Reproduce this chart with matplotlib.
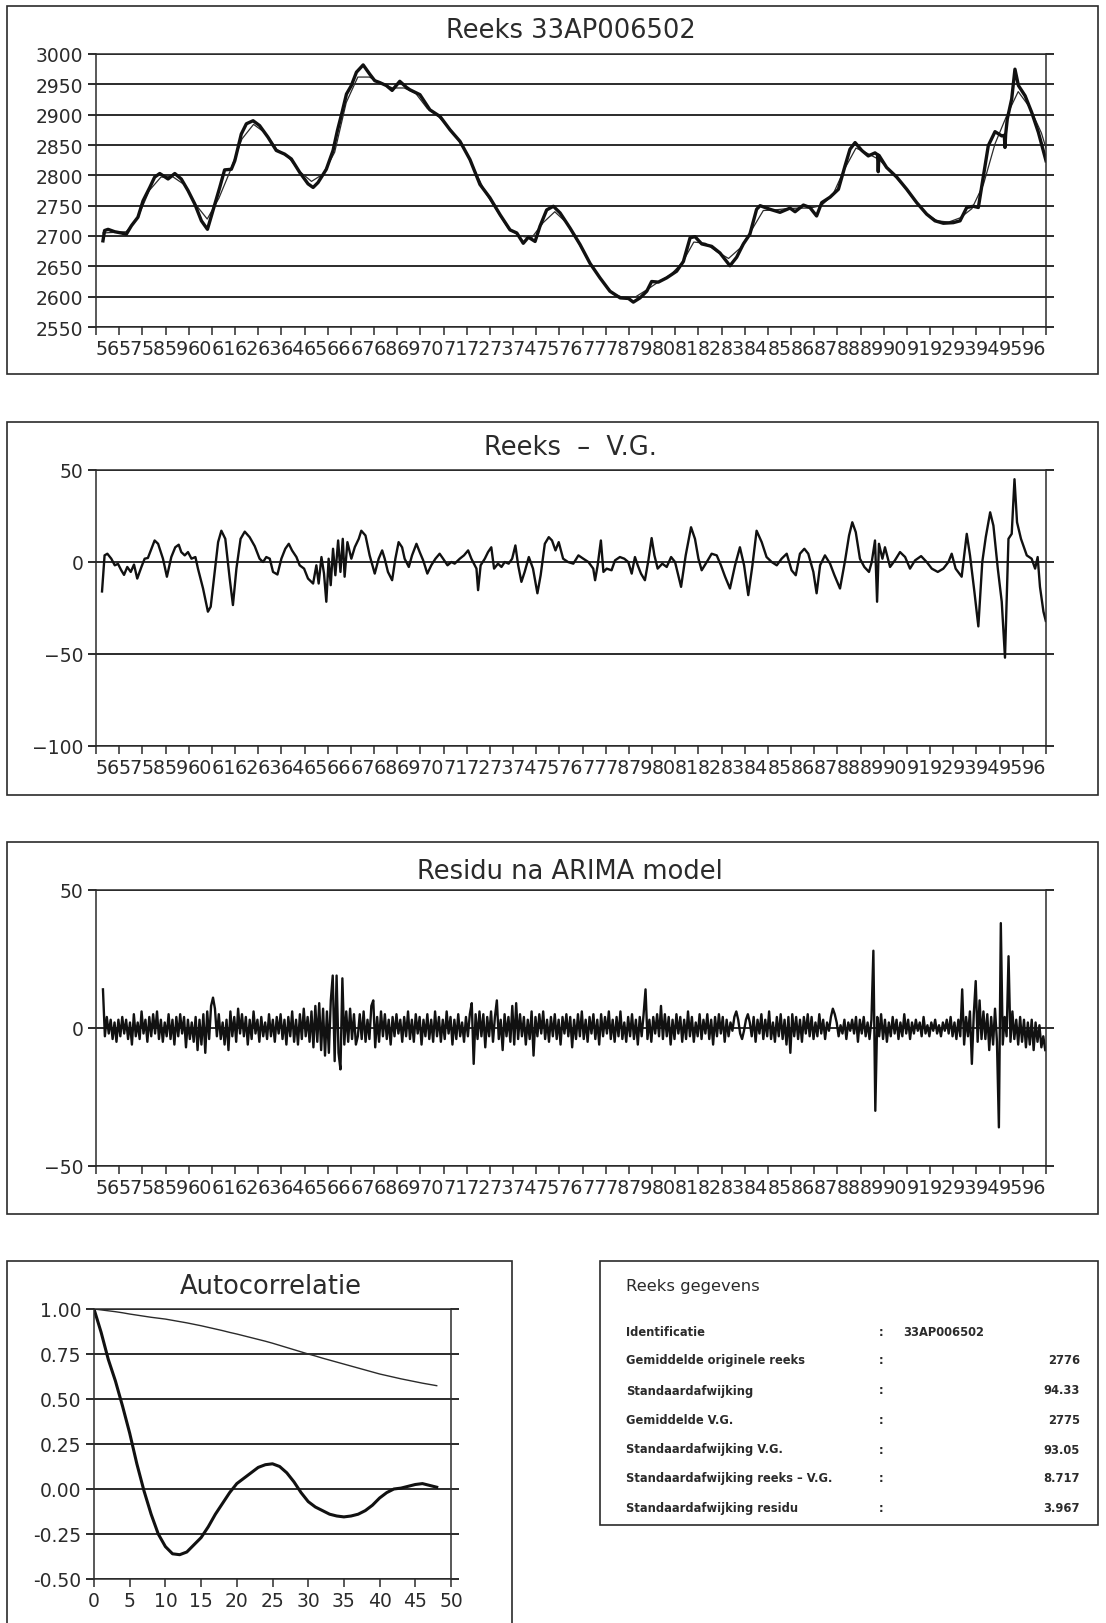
import numpy as np
import matplotlib
matplotlib.use("Agg")
import matplotlib.pyplot as plt
from matplotlib.patches import Rectangle
from matplotlib.ticker import FormatStrFormatter

# --- reeks 33AP006502: gemeten stijghoogte (dikke lijn) ---
reeks_jaar = [
    1956.30, 1956.37, 1956.52, 1956.81, 1957.09, 1957.31, 1957.53, 1957.81, 1958.03, 1958.32,
    1958.53, 1958.75, 1959.11, 1959.40, 1959.68, 1959.97, 1960.26, 1960.55, 1960.81, 1961.05,
    1961.34, 1961.55, 1961.84, 1961.99, 1962.27, 1962.49, 1962.78, 1963.06, 1963.42, 1963.78,
    1964.14, 1964.43, 1964.79, 1965.15, 1965.37, 1965.58, 1965.94, 1966.23, 1966.42, 1966.62,
    1966.81, 1967.02, 1967.24, 1967.53, 1967.81, 1968.03, 1968.24, 1968.53, 1968.78, 1969.11,
    1969.40, 1969.55, 1969.98, 1970.41, 1970.85, 1971.28, 1971.71, 1972.14, 1972.57, 1973.00,
    1973.44, 1973.87, 1974.16, 1974.44, 1974.66, 1974.95, 1975.16, 1975.45, 1975.74, 1976.03,
    1976.46, 1976.89, 1977.32, 1977.75, 1978.18, 1978.62, 1978.98, 1979.19, 1979.48, 1979.77,
    1979.98, 1980.27, 1980.63, 1981.06, 1981.35, 1981.64, 1981.85, 1982.14, 1982.57, 1982.93,
    1983.36, 1983.65, 1983.94, 1984.22, 1984.51, 1984.66, 1985.09, 1985.52, 1985.95, 1986.17,
    1986.53, 1986.81, 1987.10, 1987.32, 1987.68, 1988.04, 1988.33, 1988.54, 1988.76, 1989.05,
    1989.33, 1989.62, 1989.73, 1989.76, 1989.79, 1990.12, 1990.56, 1990.99, 1991.42, 1991.85,
    1992.21, 1992.57, 1993.00, 1993.29, 1993.58, 1993.86, 1994.08, 1994.30, 1994.51, 1994.80,
    1995.09, 1995.20, 1995.23, 1995.26, 1995.33, 1995.52, 1995.66, 1995.81, 1996.10, 1996.38,
    1996.67, 1997.00,
]
reeks_waarde = [
    2692, 2709, 2711, 2707, 2705, 2703, 2717, 2731, 2758, 2780,
    2797, 2803, 2794, 2803, 2794, 2775, 2753, 2725, 2711, 2742,
    2780, 2809, 2810, 2824, 2868, 2885, 2890, 2882, 2863, 2841,
    2835, 2827, 2805, 2786, 2780, 2788, 2810, 2841, 2874, 2904,
    2934, 2948, 2970, 2982, 2967, 2956, 2953, 2948, 2940, 2955,
    2945, 2941, 2933, 2908, 2897, 2875, 2856, 2826, 2785, 2763,
    2735, 2710, 2705, 2688, 2698, 2691, 2716, 2743, 2749, 2738,
    2713, 2686, 2655, 2631, 2609, 2598, 2597, 2591, 2598, 2609,
    2625, 2624, 2631, 2642, 2658, 2697, 2699, 2687, 2683, 2672,
    2651, 2665, 2687, 2703, 2744, 2750, 2744, 2739, 2746, 2740,
    2751, 2747, 2733, 2755, 2764, 2777, 2816, 2843, 2854, 2841,
    2832, 2837, 2834, 2806, 2833, 2813, 2797, 2777, 2755, 2736,
    2725, 2721, 2722, 2725, 2747, 2749, 2747, 2799, 2849, 2872,
    2865, 2866, 2846, 2868, 2893, 2926, 2975, 2948, 2931, 2904,
    2871, 2824,
]

# --- V.G. (dunne lijn) ---
vg_jaar = [
    1956.3, 1956.8, 1957.3, 1957.8, 1958.3, 1958.8, 1959.3, 1959.8, 1960.3, 1960.8,
    1961.3, 1961.8, 1962.3, 1962.8, 1963.3, 1963.8, 1964.3, 1964.8, 1965.3, 1965.8,
    1966.3, 1966.8, 1967.3, 1967.8, 1968.3, 1968.8, 1969.3, 1969.8, 1970.3, 1970.8,
    1971.3, 1971.8, 1972.3, 1972.8, 1973.3, 1973.8, 1974.3, 1974.8, 1975.3, 1975.8,
    1976.3, 1976.8, 1977.3, 1977.8, 1978.3, 1978.8, 1979.3, 1979.8, 1980.3, 1980.8,
    1981.3, 1981.8, 1982.3, 1982.8, 1983.3, 1983.8, 1984.3, 1984.8, 1985.3, 1985.8,
    1986.3, 1986.8, 1987.3, 1987.8, 1988.3, 1988.8, 1989.3, 1989.8, 1990.3, 1990.8,
    1991.3, 1991.8, 1992.3, 1992.8, 1993.3, 1993.8, 1994.3, 1994.8, 1995.3, 1995.8,
    1996.3, 1996.8, 1997.0,
]
vg_waarde = [
    2705, 2706, 2707, 2730, 2775, 2797, 2798, 2785, 2752, 2728,
    2762, 2808, 2860, 2884, 2870, 2843, 2830, 2806, 2790, 2802,
    2838, 2920, 2962, 2962, 2952, 2944, 2944, 2935, 2910, 2896,
    2875, 2850, 2812, 2772, 2742, 2712, 2700, 2697, 2722, 2740,
    2722, 2690, 2656, 2628, 2605, 2598, 2600, 2612, 2625, 2636,
    2656, 2690, 2688, 2674, 2663, 2680, 2710, 2742, 2743, 2745,
    2746, 2746, 2750, 2768, 2810, 2845, 2836, 2826, 2806, 2785,
    2760, 2738, 2725, 2723, 2730, 2745, 2785, 2852, 2898, 2938,
    2912, 2870, 2845,
]

# --- reeks minus V.G. ---
verschil_jaar = [
    1956.26, 1956.37, 1956.49, 1956.66, 1956.81, 1956.95, 1957.09, 1957.21, 1957.35, 1957.50,
    1957.64, 1957.78, 1957.96, 1958.10, 1958.24, 1958.39, 1958.53, 1958.68, 1958.89, 1959.06,
    1959.25, 1959.42, 1959.57, 1959.68, 1959.83, 1959.97, 1960.12, 1960.29, 1960.40, 1960.62,
    1960.83, 1960.95, 1961.09, 1961.27, 1961.41, 1961.58, 1961.77, 1961.91, 1962.06, 1962.24,
    1962.42, 1962.63, 1962.85, 1963.06, 1963.21, 1963.35, 1963.50, 1963.64, 1963.83, 1964.00,
    1964.17, 1964.32, 1964.46, 1964.65, 1964.79, 1964.98, 1965.15, 1965.37, 1965.51, 1965.61,
    1965.73, 1965.84, 1965.94, 1966.04, 1966.13, 1966.23, 1966.33, 1966.45, 1966.55, 1966.65,
    1966.73, 1966.85, 1967.02, 1967.17, 1967.34, 1967.45, 1967.63, 1967.81, 1968.03, 1968.20,
    1968.35, 1968.46, 1968.60, 1968.78, 1968.92, 1969.06, 1969.21, 1969.32, 1969.50, 1969.64,
    1969.83, 1969.97, 1970.12, 1970.30, 1970.47, 1970.65, 1970.83, 1970.98, 1971.17, 1971.34,
    1971.48, 1971.70, 1971.88, 1972.06, 1972.20, 1972.42, 1972.49, 1972.60, 1972.78, 1972.92,
    1973.06, 1973.18, 1973.35, 1973.50, 1973.64, 1973.81, 1973.96, 1974.10, 1974.22, 1974.36,
    1974.50, 1974.68, 1974.86, 1975.05, 1975.19, 1975.37, 1975.54, 1975.68, 1975.83, 1975.97,
    1976.16, 1976.37, 1976.60, 1976.82, 1977.03, 1977.25, 1977.46, 1977.54, 1977.65, 1977.79,
    1977.90, 1978.04, 1978.25, 1978.40, 1978.61, 1978.80, 1978.97, 1979.12, 1979.26, 1979.38,
    1979.52, 1979.69, 1979.84, 1979.98, 1980.10, 1980.24, 1980.44, 1980.63, 1980.82, 1980.99,
    1981.25, 1981.45, 1981.68, 1981.85, 1982.00, 1982.14, 1982.36, 1982.57, 1982.79, 1982.97,
    1983.15, 1983.36, 1983.58, 1983.79, 1983.97, 1984.15, 1984.33, 1984.51, 1984.73, 1984.94,
    1985.16, 1985.38, 1985.59, 1985.81, 1986.02, 1986.20, 1986.38, 1986.57, 1986.74, 1986.96,
    1987.10, 1987.25, 1987.46, 1987.68, 1987.87, 1988.11, 1988.33, 1988.50, 1988.64, 1988.79,
    1988.97, 1989.16, 1989.36, 1989.48, 1989.62, 1989.71, 1989.79, 1989.94, 1990.05, 1990.27,
    1990.48, 1990.70, 1990.92, 1991.13, 1991.35, 1991.61, 1991.85, 1992.07, 1992.33, 1992.57,
    1992.79, 1992.93, 1993.10, 1993.36, 1993.58, 1993.72, 1993.91, 1994.08, 1994.25, 1994.40,
    1994.59, 1994.73, 1994.92, 1995.09, 1995.23, 1995.38, 1995.52, 1995.64, 1995.75, 1995.92,
    1996.17, 1996.38, 1996.53, 1996.64, 1996.74, 1996.89, 1996.99,
]
verschil_waarde = [
    -16, 3.6, 4.5, 1.8, -1.8, -1, -4.5, -7, -2.7, -5.4,
    -1.4, -9, -2.7, 1.8, 2.2, 7.2, 11.7, 9.9, 1.8, -8,
    2.7, 8, 9.4, 5.4, 3.6, 5.4, 1.8, 2.7, -3.6, -14.4,
    -27, -24.3, -9, 10.8, 17, 12.6, -9, -23.4, -3.6, 12.6,
    16.5, 13.5, 8.6, 1.8, 0, 2.7, 1.8, -5.4, -6.8, 1.8,
    7.2, 9.9, 6.3, 2.7, -1.8, -3.6, -9, -11.7, -1.8, -11.7,
    2.7, -6.3, -21.6, 1.8, -12.6, 7.2, -7.2, 11.7, -5.4, 12.6,
    -8, 10.8, 1.8, 8.1, 12.6, 17, 14.4, 3.6, -6.3, 1.8,
    6.3, 1.8, -5.4, -9.9, 1.8, 10.8, 8, 1.8, -2.7, 3.6,
    9.9, 5.4, 0.9, -6.3, -1.8, 1.8, 4.5, 1.8, -1.8, 0,
    -0.9, 1.8, 3.6, 6.3, 1.8, -3.6, -15.3, -1.8, 1.8, 5.4,
    8, -3.6, -0.9, -2.7, 0, -0.9, 1.8, 9, -1.8, -10.8,
    -5.4, 2.7, -3.6, -17, -7.2, 9.9, 13.5, 11.7, 6.3, 10.8,
    1.8, 0, -0.9, 3.6, 1.8, 0, -3.6, -9.9, -1.8, 11.7,
    -5.4, -3.6, -4.5, 0.9, 2.7, 1.8, 0, -6.3, 2.7, -1.8,
    -6.3, -9.9, 0.9, 13, 3.6, -3.6, -0.9, -2.7, 2.7, 0,
    -13.5, 3.6, 18.9, 12.6, 1.8, -4.5, 0, 4.5, 3.6, -1.8,
    -8, -14.4, -1.8, 8, -1.8, -18, -1.8, 17, 10.8, 2.7,
    0, -1.8, 1.8, 4.5, -4.5, -7.2, 4.5, 7.2, 4.5, -5.4,
    -17, -1.8, 3.6, -0.9, -7.2, -14.4, 0.9, 14.4, 21.6, 16.2,
    1.8, -2.7, -5.4, 0, 11.7, -21.6, 9.9, 1.8, 8, -2.7,
    0.9, 5.4, 2.7, -3.6, 0.9, 3.2, 0, -3.6, -5.4, -3.6,
    0, 4.5, -3.6, -8, 15.3, 3.6, -16.2, -35, 0, 13.5,
    27, 19.8, -3.6, -21.6, -52, 12.6, 15.3, 45, 21.6, 12.6,
    3.6, 1.8, -3.6, 2.7, -13.5, -27, -32,
]

# --- residu na ARIMA model, maandwaarden vanaf april 1956 ---
residu_start = 1956.30
residu_waarde = [
    14, -3, 4, -2, 3, -4, 2, -5, 3, -3, 4, -2,
    3, -4, 2, -6, 5, -3, 2, -4, 6, -2, 3, -5,
    4, -3, 5, -2, 6, -4, 3, -5, 2, -3, 5, -4,
    3, -6, 4, -3, 5, -2, 4, -7, 3, -4, 2, -5,
    4, -8, 3, -6, 5, -9, 6, -4, 8, 11, 7, -3,
    5, -4, 2, -6, 3, -8, 6, -3, 4, -5, 7, -2,
    5, -3, 4, -6, 3, -4, 6, -2, 3, -5, 4, -3,
    2, -4, 5, -3, 3, -5, 4, -2, 5, -4, 3, -6,
    4, -3, 6, -5, 3, -6, 5, -4, 7, -3, 4, -5,
    6, -7, 8, -5, 9, -8, 7, -10, 6, -9, 10, 19,
    -12, 19, -9, -15, 18, -6, 6, -5, 7, -4, 5, -6,
    -3, 5, -4, 6, -5, 3, -4, 8, 10, -7, 4, -5,
    6, -3, 5, -4, 3, -6, 4, -3, 5, -2, 3, -5,
    4, -3, 6, -4, 3, -5, 5, -2, 4, -6, 3, -3,
    5, -4, 3, -5, 6, -3, 4, -5, 3, -4, 6, -2,
    4, -6, 3, -4, 5, -3, 2, -5, 4, -3, 5, 9,
    -13, 5, -4, 6, -3, 5, -7, 4, -3, 6, -5, 4,
    10, -4, 3, -8, 5, -3, 4, -5, 8, -6, 9, -4,
    5, -3, 4, -6, 3, -4, 6, -10, 4, -3, 5, -2,
    6, -4, 3, -5, 4, -3, 5, -4, 3, -6, 4, -2,
    5, -3, 4, -7, 3, -4, 5, -3, 6, -4, 3, -5,
    4, -2, 5, -4, 3, -6, 5, -3, 4, -2, 6, -4,
    3, -5, 4, -3, 6, -4, 2, -5, 4, -3, 5, -4,
    3, -6, 4, -3, 5, 14, -4, 3, -5, 4, -2, 5,
    -3, 8, -4, 5, -3, 4, -6, 3, -4, 5, -2, 4,
    -5, 3, -4, 6, -3, 4, -5, 2, -3, 5, -4, 3,
    -2, 5, -4, 3, -6, 4, -3, 5, -2, 4, -5, 3,
    -3, 2, -1, 4, 6, 3, -2, -4, -1, 3, 5, 2,
    -3, 4, -5, 3, -2, 5, -4, 3, -3, 6, -4, 2,
    -5, 4, -3, 5, -4, 3, -6, 4, -9, 5, -3, 4,
    -4, 3, -5, 4, -2, 5, -3, 4, -4, 2, -3, 5,
    -2, 3, -4, 2, -1, 4, 7, 5, 2, -3, 1, -2,
    3, -4, 2, -1, 3, -2, 4, -5, 3, -2, 4, -3,
    2, -4, 3, 28, -30, 4, -3, 5, -4, 3, -5, 2,
    -3, 4, -2, 3, -4, 2, -3, 5, -2, 3, -4, 2,
    -2, 3, -1, 2, -3, 4, -2, 1, -3, 2, -1, 3,
    -2, 1, -3, 2, -1, 3, -2, 4, -3, 2, -4, 3,
    -3, 14, -6, 4, -3, 6, -13, 5, 17, -5, 10, -4,
    6, -4, 5, -8, 4, -6, 7, -5, -36, 38, -6, 4,
    -3, 26, -5, 6, -4, 3, -6, 4, -5, 3, -7, 2,
    -6, 3, -8, 2, -5, 1, -7, -3, -8,
]

# --- autocorrelatie per lag (0..48) ---
acf_reeks = [
    1.000, 0.995, 0.990, 0.985, 0.979, 0.972, 0.966, 0.960, 0.954, 0.949,
    0.944, 0.937, 0.930, 0.923, 0.915, 0.907, 0.898, 0.889, 0.880, 0.870,
    0.861, 0.851, 0.841, 0.831, 0.821, 0.810, 0.798, 0.786, 0.774, 0.762,
    0.750, 0.739, 0.727, 0.716, 0.705, 0.694, 0.683, 0.672, 0.661, 0.650,
    0.639, 0.630, 0.621, 0.612, 0.604, 0.596, 0.588, 0.581, 0.574,
]
acf_verschil = [
    1.000, 0.870, 0.720, 0.600, 0.460, 0.310, 0.140, -0.010, -0.140, -0.250,
    -0.320, -0.360, -0.365, -0.350, -0.310, -0.270, -0.210, -0.140, -0.080, -0.020,
    0.030, 0.060, 0.090, 0.120, 0.135, 0.140, 0.125, 0.090, 0.040, -0.020,
    -0.070, -0.100, -0.120, -0.140, -0.150, -0.155, -0.150, -0.140, -0.120, -0.090,
    -0.050, -0.020, 0.000, 0.005, 0.015, 0.025, 0.030, 0.020, 0.010,
]

# --- tabel reeks gegevens ---
tabel_labels = [
    "Identificatie", "Gemiddelde originele reeks", "Standaardafwijking",
    "Gemiddelde V.G.", "Standaardafwijking V.G.",
    "Standaardafwijking reeks \u2013 V.G.", "Standaardafwijking residu",
]
tabel_waarden = ["33AP006502", "2776", "94.33", "2775", "93.05", "8.717", "3.967"]

INK = "#2b2b2b"
W, H = 1106, 1624

plt.rcParams["font.family"] = ["DejaVu Sans"]

fig = plt.figure(figsize=(W / 100, H / 100), dpi=100)
fig.patch.set_facecolor("white")


def box(left, top, right, bottom):
    return [left / W, 1 - bottom / H, (right - left) / W, (bottom - top) / H]


def kader(left, top, right, bottom):
    fig.add_artist(Rectangle((left / W, 1 - bottom / H), (right - left) / W,
                             (bottom - top) / H, transform=fig.transFigure,
                             fill=False, lw=1.2, ec=INK))


def titel(x, y, s, size=18.5, **kw):
    fig.text(x / W, 1 - y / H, s, fontsize=size, color=INK, va="center", **kw)


def opmaak(ax):
    for s in ax.spines.values():
        s.set_color(INK)
        s.set_linewidth(1.1)
    ax.grid(axis="y", color=INK, lw=1.4)
    ax.tick_params(axis="y", direction="out", length=6, width=1.4, color=INK,
                   left=True, right=True, labelsize=13.5, labelcolor=INK, pad=3)


def tijdas(ax, ymin, ymax, stap):
    ax.set_xlim(1956, 1997)
    ax.set_ylim(ymin, ymax)
    ax.set_xticks(np.arange(1956, 1998))
    ax.set_xticklabels([])
    ax.set_xticks(np.arange(1956, 1997) + 0.5, minor=True)
    ax.set_xticklabels([f"{j % 100:02d}" for j in range(1956, 1997)], minor=True)
    ax.tick_params(axis="x", which="major", direction="out", length=6, width=1.1, color=INK)
    ax.tick_params(axis="x", which="minor", length=0, pad=8.5, labelsize=13.8, labelcolor=INK)
    ax.set_yticks(np.arange(ymin, ymax + 1, stap))
    opmaak(ax)


# paneel 1: reeks en V.G.
kader(7, 7, 1098, 375)
titel(571, 31, "Reeks 33AP006502", ha="center")
ax1 = fig.add_axes(box(96, 55, 1046, 328))
tijdas(ax1, 2550, 3000, 50)
ax1.plot(vg_jaar, vg_waarde, color=INK, lw=0.9)
ax1.plot(reeks_jaar, reeks_waarde, color="#111111", lw=2.4)

# paneel 2: reeks - V.G.
kader(7, 423, 1098, 796)
titel(570, 448, "Reeks  \u2013  V.G.", ha="center")
ax2 = fig.add_axes(box(96, 471, 1046, 747))
tijdas(ax2, -100, 50, 50)
ax2.plot(verschil_jaar, verschil_waarde, color="#111111", lw=1.7)

# paneel 3: residu
kader(7, 843, 1098, 1215)
titel(570, 872, "Residu na ARIMA model", ha="center")
ax3 = fig.add_axes(box(96, 891, 1046, 1167))
tijdas(ax3, -50, 50, 50)
residu_jaar = residu_start + np.arange(len(residu_waarde)) / 12
ax3.plot(residu_jaar, residu_waarde, color="#111111", lw=1.7)

# paneel 4: autocorrelatie
kader(7, 1262, 512, 1640)
titel(271, 1287, "Autocorrelatie", ha="center")
ax4 = fig.add_axes(box(94, 1310, 451, 1580))
lags = np.arange(len(acf_reeks))
ax4.plot(lags, acf_reeks, color=INK, lw=1.0)
ax4.plot(lags, acf_verschil, color="#111111", lw=2.2)
ax4.set_xlim(0, 50)
ax4.set_ylim(-0.5, 1.0)
ax4.set_xticks(np.arange(0, 51, 5))
ax4.set_yticks(np.arange(-0.5, 1.01, 0.25))
ax4.yaxis.set_major_formatter(FormatStrFormatter("%.2f"))
opmaak(ax4)
ax4.tick_params(axis="x", direction="out", length=6, width=1.1, color=INK,
                labelsize=13.5, labelcolor=INK, pad=3)

# tabel met reeksgegevens
kader(600, 1262, 1098, 1526)
titel(626, 1287, "Reeks gegevens", size=11.8, ha="left")
rij_y = [1332, 1361, 1391, 1421, 1450, 1479, 1509]
for y, label, waarde in zip(rij_y, tabel_labels, tabel_waarden):
    titel(626, y, label, size=8.3, ha="left", weight="bold")
    titel(881, y, ":", size=8.3, ha="center", weight="bold")
    if label == "Identificatie":
        titel(903, y, waarde, size=8.3, ha="left", weight="bold")
    else:
        titel(1080, y, waarde, size=8.3, ha="right", weight="bold")

fig.savefig("out.png", dpi=100, facecolor="white")
